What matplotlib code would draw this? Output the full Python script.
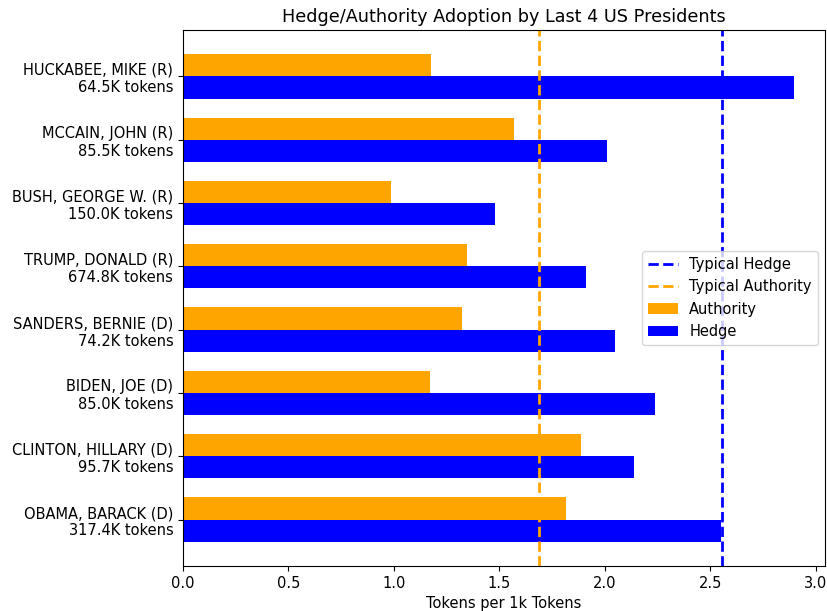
import matplotlib
matplotlib.use("Agg")
import matplotlib.pyplot as plt
import numpy as np

# bottom to top, as drawn
speakers = ["OBAMA, BARACK (D)", "CLINTON, HILLARY (D)", "BIDEN, JOE (D)",
            "SANDERS, BERNIE (D)", "TRUMP, DONALD (R)", "BUSH, GEORGE W. (R)",
            "MCCAIN, JOHN (R)", "HUCKABEE, MIKE (R)"]
token_counts = ["317.4K", "95.7K", "85.0K", "74.2K", "674.8K", "150.0K",
                "85.5K", "64.5K"]
hedge = [2.55, 2.14, 2.24, 2.05, 1.91, 1.48, 2.01, 2.90]
authority = [1.815, 1.89, 1.17, 1.325, 1.345, 0.985, 1.57, 1.175]
typical_hedge = 2.558
typical_authority = 1.688

plt.rcParams["font.size"] = 10.55

fig, ax = plt.subplots(figsize=(8.27, 6.11), dpi=100)
fig.subplots_adjust(left=0.2213, right=0.9976, top=0.951, bottom=0.0736)

y = np.arange(len(speakers))
h = 0.35

ax.axvline(typical_hedge, color="blue", linestyle="--", linewidth=2, label="Typical Hedge")
ax.axvline(typical_authority, color="orange", linestyle="--", linewidth=2, label="Typical Authority")
ax.barh(y + h / 2, authority, height=h, color="orange", label="Authority")
ax.barh(y - h / 2, hedge, height=h, color="blue", label="Hedge")

ax.set_yticks(y)
ax.set_yticklabels([f"{s}\n{t} tokens" for s, t in zip(speakers, token_counts)])
ax.set_xlabel("Tokens per 1k Tokens")
ax.set_title("Hedge/Authority Adoption by Last 4 US Presidents", fontsize=12.66)
ax.legend(loc="center right")

fig.savefig("out.png")
